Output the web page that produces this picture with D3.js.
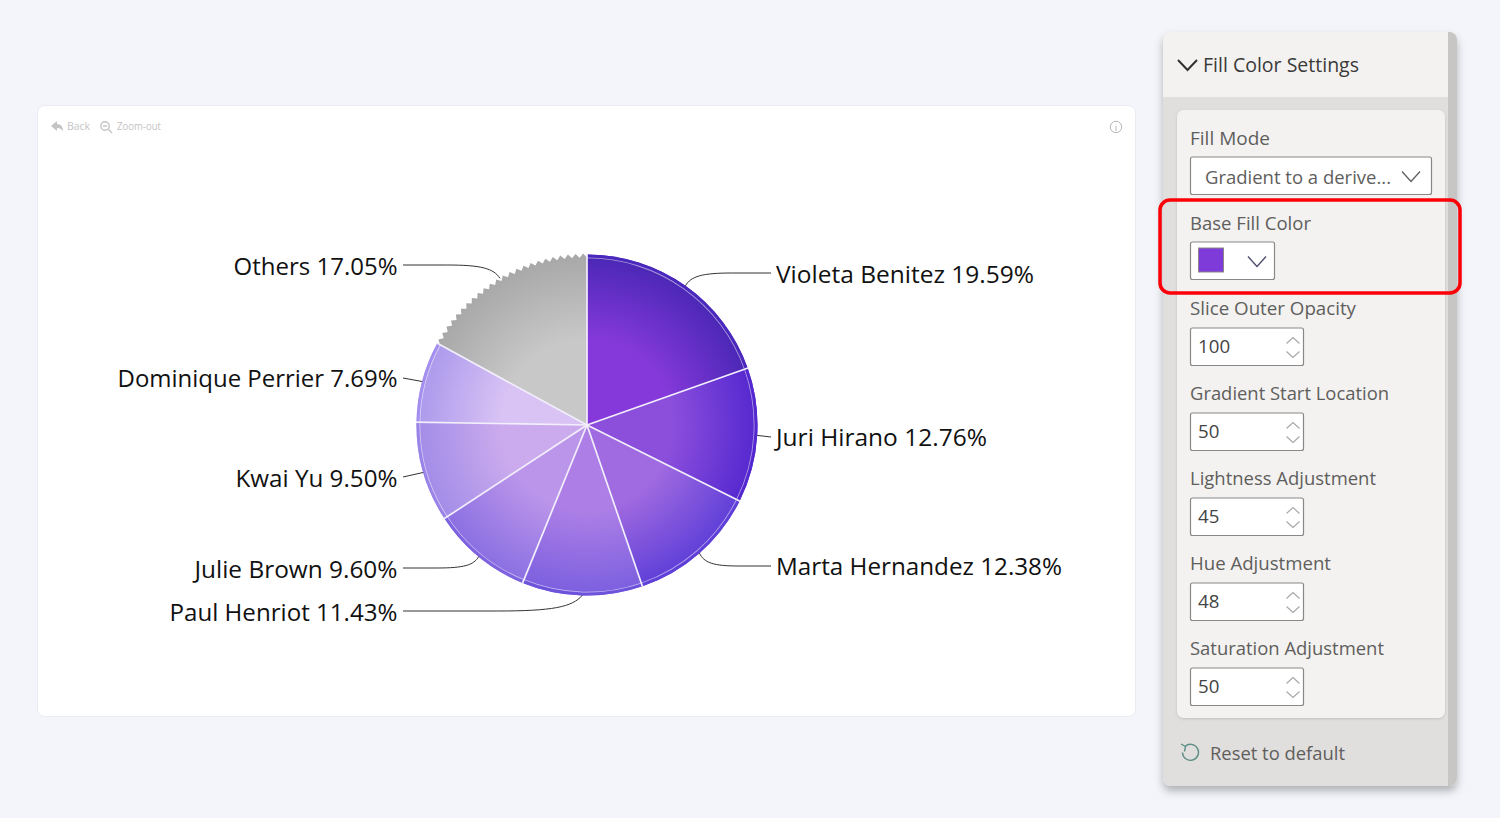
<!DOCTYPE html>
<html><head><meta charset="utf-8">
<script src="https://cdn.jsdelivr.net/npm/d3@7"></script>
<style>html,body{margin:0;padding:0;background:#f3f5fa;overflow:hidden}svg{display:block}text{font-family:"Open Sans",sans-serif}</style>
</head><body><svg id="c" width="1500" height="818"></svg>
<script>
// ---- data ----
const names = ["Violeta Benitez","Juri Hirano","Marta Hernandez","Paul Henriot","Julie Brown","Kwai Yu","Dominique Perrier","Others"];
const shares = [19.59,12.76,12.38,11.43,9.60,9.50,7.69,17.05];
const baseColors = ["#8539da","#8c4fdc","#a06ae0","#ad7fe6","#bb95ea","#cbabed","#d9c3f4","#c8c8c8"];
const edgeColors = ["#4a27b5","#5528cf","#5f3fd8","#7b5fdf","#8a6fe2","#a28ce8","#ab99ec","#a8a8a8"];
const ringColors = ["#4a27bd","#5528cf","#5f3fd8","#6f52dc","#7f62e0","#9a84e8","#a48ff0",null];
// ---- layout of labels (px rows chosen by the chart's label placement) ----
const labelY = [273,437,566,611,568,477,378,265];
const labelDy = [1,0,0,1,1,1,0,1];
const labelW = [258,211,286,228,203,162,280,164];
// ---- panel content ----
const fields = [["Slice Outer Opacity","100"],["Gradient Start Location","50"],["Lightness Adjustment","45"],["Hue Adjustment","48"],["Saturation Adjustment","50"]];
const fieldW = [166,199,186,141,194];

const svg = d3.select("#c");
const defs = svg.append("defs");
const shadow = defs.append("filter").attr("id","sh").attr("x","-10%").attr("y","-10%").attr("width","120%").attr("height","120%");
shadow.append("feDropShadow").attr("dx",0).attr("dy",5).attr("stdDeviation",4).attr("flood-color","#000").attr("flood-opacity",.28);
const shadow2 = defs.append("filter").attr("id","sh2").attr("x","-10%").attr("y","-20%").attr("width","120%").attr("height","140%");
shadow2.append("feDropShadow").attr("dx",0).attr("dy",4).attr("stdDeviation",4).attr("flood-color","#000").attr("flood-opacity",.22);
const shadow3 = defs.append("filter").attr("id","sh3").attr("x","-5%").attr("y","-5%").attr("width","110%").attr("height","110%");
shadow3.append("feDropShadow").attr("dx",0).attr("dy",1).attr("stdDeviation",1.5).attr("flood-color","#000").attr("flood-opacity",.14);

// ---- card ----
svg.append("rect").attr("x",37.5).attr("y",105.5).attr("width",1098).attr("height",611).attr("rx",7)
  .attr("fill","#fff").attr("stroke","#e9ebf1");
// toolbar
const tb = svg.append("g").attr("fill","#c4c4c4");
tb.append("path").attr("d","M51 126l6-5v3c5 0 6 4 6 8c-1-3-3-4-6-4v3z");
tb.append("text").attr("x",67).attr("y",130).attr("font-size",10).text("Back").attr("textLength",23).attr("lengthAdjust","spacingAndGlyphs");
tb.append("circle").attr("cx",105).attr("cy",126).attr("r",4.2).attr("fill","none").attr("stroke","#c4c4c4").attr("stroke-width",1.4);
tb.append("path").attr("d","M103 126h4M108 129l4 4").attr("stroke","#c4c4c4").attr("stroke-width",1.4);
tb.append("text").attr("x",117).attr("y",130).attr("font-size",10).text("Zoom-out").attr("textLength",44).attr("lengthAdjust","spacingAndGlyphs");
svg.append("circle").attr("cx",1116).attr("cy",127).attr("r",5.7).attr("fill","none").attr("stroke","#b8b8b8");
svg.append("text").attr("x",1116).attr("y",131).attr("text-anchor","middle").attr("font-size",9).attr("fill","#a8a8a8").text("i");

// ---- pie ----
const cx=587, cy=425, R=170.5, ringIn=167.5;
const pie = d3.pie().value(d=>d.v).sort(null);
const arcs = pie(names.map((n,i)=>({n,v:shares[i],i})));
const g = svg.append("g").attr("transform",`translate(${cx},${cy})`);
const arc = d3.arc().innerRadius(0).outerRadius(R);
arcs.forEach((a,i)=>{
  const gr = defs.append("radialGradient").attr("id","g"+i).attr("gradientUnits","userSpaceOnUse")
    .attr("cx",0).attr("cy",0).attr("r",R);
  gr.append("stop").attr("offset","50%").attr("stop-color",baseColors[i]);
  gr.append("stop").attr("offset","100%").attr("stop-color",edgeColors[i]);
});
// leader lines first
const rowX = d=> (d.startAngle+d.endAngle)/2 < Math.PI ? 771 : 403;
arcs.forEach((a,i)=>{
  const m=(a.startAngle+a.endAngle)/2, sx=cx+R*Math.sin(m), sy=cy-R*Math.cos(m), ex=rowX(a), ey=labelY[i];
  const p=d3.path(); p.moveTo(sx,sy);
  const dir=Math.sign(ex-sx), dx=Math.abs(ex-sx);
  if(dx<30){ p.lineTo(ex,ey); }
  else {
    const k=Math.min(dx*.55,85);
    p.bezierCurveTo(sx+dir*k*.12,sy+(ey-sy)*.75, sx+dir*k*.35,ey, sx+dir*k,ey);
    p.lineTo(ex,ey);
  }
  svg.append("path").attr("d",p.toString()).attr("fill","none").attr("stroke","#333").attr("stroke-width",1);
  const right=dir>0;
  svg.append("text").attr("x",right?776:397.5).attr("y",ey+0.2+labelDy[i]).attr("dy","0.36em").attr("text-anchor",right?"start":"end")
    .attr("font-size",24).attr("fill","#111")
    .attr("textLength",labelW[i]).attr("lengthAdjust","spacingAndGlyphs")
    .text(`${names[i]} ${shares[i].toFixed(2)}%`);
});
// slices
arcs.forEach((a,i)=>{
  if(ringColors[i]===null){
    // serrated outer edge of the "Others" slice
    const teeth=24, span=a.endAngle-a.startAngle;
    const line=[];
    for(let t=0;t<=teeth*2;t++){ line.push([a.startAngle+span*t/(teeth*2), t%2? R+1 : R-3]); }
    const path=d3.lineRadial().angle(d=>d[0]).radius(d=>d[1])(line);
    g.append("path").attr("d",path+"L0,0Z").attr("fill",`url(#g${i})`);
  } else {
    g.append("path").attr("d",arc(a)).attr("fill",`url(#g${i})`);
    g.append("path").attr("d",d3.arc().innerRadius(ringIn).outerRadius(R)(a)).attr("fill",ringColors[i]);
    g.append("path").attr("d",d3.arc().innerRadius(ringIn-.8).outerRadius(ringIn)(a)).attr("fill","#fff").attr("opacity",.55);
  }
});
arcs.forEach(a=>{
  [a.startAngle].forEach(t=>{
    g.append("line").attr("x1",0).attr("y1",0).attr("x2",(R+1)*Math.sin(t)).attr("y2",-(R+1)*Math.cos(t))
      .attr("stroke","#f2eefb").attr("stroke-width",1.7);
  });
});

// ---- side panel ----
const P=svg.append("g");
P.append("rect").attr("x",1163).attr("y",32).attr("width",294).attr("height",754).attr("rx",8).attr("fill","#e1dfdd").attr("filter","url(#sh)");
P.append("path").attr("d","M1163 97V40a8 8 0 0 1 8-8H1449V97Z").attr("fill","#f3f2f1");
P.append("path").attr("d","M1448 32h1a8 8 0 0 1 8 8V778a8 8 0 0 1-8 8h-1Z").attr("fill","#c8c6c4");
P.append("path").attr("d","M1178 60l9.5 10l9.5-10").attr("fill","none").attr("stroke","#323130").attr("stroke-width",2);
const label=(x,y,t,w,fs,col)=>P.append("text").attr("x",x).attr("y",y).attr("dy","0.35em").attr("font-size",fs||19).attr("fill",col||"#605e5c")
  .attr("textLength",w).attr("lengthAdjust","spacingAndGlyphs").text(t);
label(1203,65,"Fill Color Settings",156,20,"#3b3a39");
P.append("rect").attr("x",1177).attr("y",110).attr("width",268).attr("height",608).attr("rx",7).attr("fill","#f3f2f1").attr("filter","url(#sh3)");
label(1190,138,"Fill Mode",80);
const box=(x,y,w)=>P.append("rect").attr("x",x+.5).attr("y",y).attr("width",w-1).attr("height",37.5).attr("rx",2).attr("fill","#fff").attr("stroke","#8a8886").attr("stroke-width",1.2);
const chev=(x,y,w,h,col,sw,up)=>P.append("path").attr("d",up?`M${x-w} ${y+h}L${x} ${y}L${x+w} ${y+h}`:`M${x-w} ${y}L${x} ${y+h}L${x+w} ${y}`).attr("fill","none").attr("stroke",col).attr("stroke-width",sw);
box(1190,157,242);
label(1205,177,"Gradient to a derive...",186,19,"#605e5c");
chev(1411,171.5,9,10,"#605e5c",1.3);
label(1190,223,"Base Fill Color",121);
box(1190,242,85);
P.append("rect").attr("x",1198.5).attr("y",248).attr("width",25).attr("height",24).attr("fill","#7f3bd9").attr("stroke","#8a8886");
chev(1257,256.5,9,10,"#4a4a6a",1.3);
P.append("rect").attr("x",1160).attr("y",200).attr("width",300).attr("height",93).attr("rx",10).attr("fill","none").attr("stroke","#000").attr("stroke-opacity",.01).attr("stroke-width",3.5).attr("filter","url(#sh2)");
fields.forEach((f,i)=>{
  const y=308+85*i;
  label(1190,y,f[0],fieldW[i]);
  box(1190,y+20,114);
  label(1198,y+38.5,f[1],f[1].length*10.7,19,"#444");
  chev(1293,y+30-.5,6.5,6,"#a8a6a4",1.1,true);
  chev(1293,y+44-.5,6.5,6,"#a8a6a4",1.1);
});
P.append("path").attr("d","M1185 746.5a8 8 0 1 1-2.5 6").attr("fill","none").attr("stroke","#5f8f88").attr("stroke-width",1.4);
P.append("path").attr("d","M1181 744l4.5 2.5l-1 5").attr("fill","none").attr("stroke","#5f8f88").attr("stroke-width",1.4);
label(1210,753,"Reset to default",135);
// red highlight
P.append("rect").attr("x",1160).attr("y",200).attr("width",300).attr("height",93).attr("rx",10).attr("fill","none").attr("stroke","#fb0007").attr("stroke-width",3.5);
</script></body></html>
